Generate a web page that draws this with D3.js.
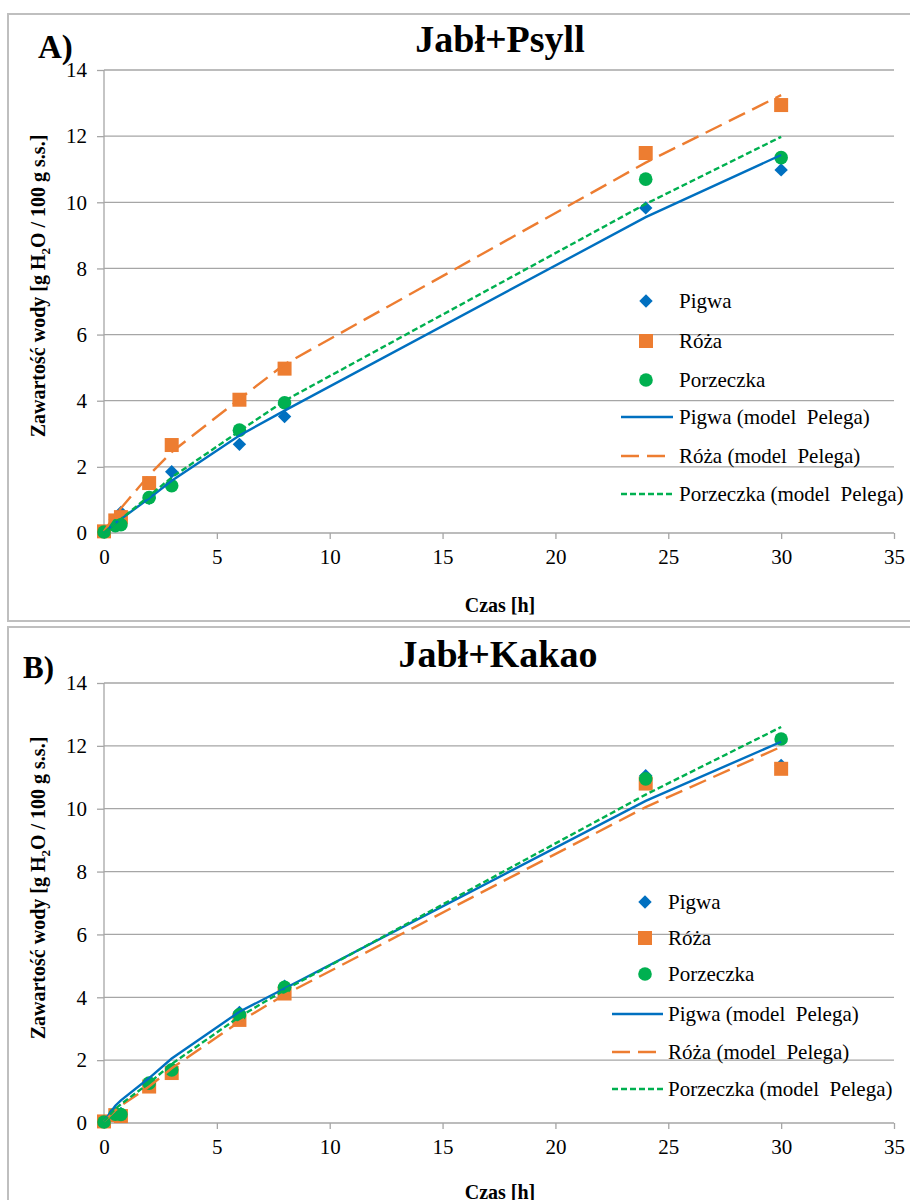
<!DOCTYPE html>
<html>
<head>
<meta charset="utf-8">
<script src="https://cdn.jsdelivr.net/npm/d3@7"></script>
<style>
  body { margin: 0; background: #fff; }
  svg text { font-family: "Liberation Serif", "Times New Roman", serif; }
</style>
</head>
<body>
<div id="chart"></div>
<script>
// measurement times [h]
var times = [0, 0.5, 0.75, 2, 3, 6, 8, 24, 30];

// A) Jabl+Psyll - measured
var pigwaA     = [0.05, 0.40, 0.62, 1.05, 1.85, 2.68, 3.52, 9.83, 10.98];
var rozaA      = [0.05, 0.38, 0.48, 1.51, 2.66, 4.03, 4.97, 11.49, 12.94];
var porzeczkaA = [0.03, 0.22, 0.25, 1.07, 1.43, 3.11, 3.94, 10.70, 11.35];
// A) model Pelega
var pigwaModelA     = [0.02, 0.30, 0.42, 1.05, 1.58, 2.95, 3.70, 9.55, 11.43];
var rozaModelA      = [0.05, 0.55, 0.75, 1.75, 2.45, 4.05, 5.10, 11.20, 13.24];
var porzeczkaModelA = [0.02, 0.30, 0.42, 1.12, 1.68, 3.08, 4.00, 9.95, 11.98];

// B) Jabl+Kakao - measured
var pigwaB     = [0.05, 0.30, 0.30, 1.25, 1.70, 3.52, 4.35, 11.05, 11.38];
var rozaB      = [0.05, 0.25, 0.22, 1.16, 1.59, 3.28, 4.12, 10.80, 11.27];
var porzeczkaB = [0.03, 0.28, 0.27, 1.27, 1.69, 3.44, 4.32, 10.95, 12.22];
// B) model Pelega
var pigwaModelB     = [0.05, 0.55, 0.72, 1.43, 2.05, 3.54, 4.28, 10.25, 12.13];
var rozaModelB      = [0.05, 0.40, 0.55, 1.16, 1.74, 3.22, 4.08, 10.05, 11.97];
var porzeczkaModelB = [0.05, 0.45, 0.60, 1.27, 1.88, 3.38, 4.23, 10.45, 12.60];

var seriesNames = ["Pigwa", "Róża", "Porzeczka"];
var modelNames = ["Pigwa (model  Pelega)", "Róża (model  Pelega)", "Porzeczka (model  Pelega)"];
var xTicks = [0, 5, 10, 15, 20, 25, 30, 35];
var yTicks = [0, 2, 4, 6, 8, 10, 12, 14];

var colors = ["#0070C0", "#ED7D31", "#00B050"];
var dashes = [null, "18,8", "6,3"];
var shapes = ["diamond", "square", "circle"];

var svg = d3.select("#chart").append("svg")
    .attr("width", 910)
    .attr("height", 1200);

function marker(g, shape, color) {
  if (shape == "circle") {
    g.append("circle").attr("r", 6.8).attr("fill", color);
  } else if (shape == "square") {
    g.append("rect").attr("x", -7).attr("y", -7).attr("width", 14).attr("height", 14)
      .attr("fill", color);
  } else {
    g.append("path").attr("d", d3.symbol().type(d3.symbolSquare).size(90)())
      .attr("transform", "rotate(45)").attr("fill", color);
  }
}

function drawPanel(p) {
  // frame
  svg.append("rect")
    .attr("x", p.frame[0]).attr("y", p.frame[1])
    .attr("width", p.frame[2]).attr("height", p.frame[3])
    .attr("fill", "none").attr("stroke", "#bfbfbf").attr("stroke-width", 2);

  var x = d3.scaleLinear().domain([0, 35]).range([104, 894]);
  var y = d3.scaleLinear().domain([0, 14]).range([p.bottom, p.top]);

  // gridlines
  svg.append("g").selectAll("line")
    .data(yTicks.slice(1))
    .enter().append("line")
    .attr("x1", x(0)).attr("x2", x(35))
    .attr("y1", function(d) { return y(d); })
    .attr("y2", function(d) { return y(d); })
    .attr("stroke", "#a6a6a6").attr("stroke-width", 1.3);

  // axes
  var xAxis = d3.axisBottom(x).tickValues(xTicks).tickSize(6).tickPadding(10);
  var yAxis = d3.axisLeft(y).tickValues(yTicks).tickSize(7).tickPadding(10);

  var gx = svg.append("g")
    .attr("transform", "translate(0," + y(0) + ")")
    .call(xAxis);
  var gy = svg.append("g")
    .attr("transform", "translate(" + x(0) + ",0)")
    .call(yAxis);
  [gx, gy].forEach(function(g) {
    g.attr("font-family", null);
    g.selectAll("path, line").attr("stroke", "#a6a6a6").attr("stroke-width", 1.3);
    g.selectAll("text").attr("font-size", 21).attr("fill", "#000");
  });
  gx.select(".domain").attr("d", "M" + x(0) + ",0H" + x(35));
  gy.select(".domain").attr("d", "M0," + y(0) + "V" + y(14));

  // titles
  svg.append("text").attr("x", p.titleX).attr("y", p.titleY)
    .attr("text-anchor", "middle").attr("font-weight", "bold").attr("font-size", 38)
    .text(p.title);
  svg.append("text").attr("x", p.letterX).attr("y", p.letterY)
    .attr("font-weight", "bold").attr("font-size", p.letterSize)
    .text(p.letter);

  svg.append("text").attr("x", 500).attr("y", p.xLabelY)
    .attr("text-anchor", "middle").attr("font-weight", "bold").attr("font-size", 20)
    .text("Czas [h]");

  var yl = svg.append("text")
    .attr("transform", "translate(45," + p.yLabelY + ") rotate(-90)")
    .attr("text-anchor", "middle").attr("font-weight", "bold").attr("font-size", 20);
  yl.append("tspan").text(p.yPrefix + " [g H");
  yl.append("tspan").attr("font-size", 13).attr("dy", 5).text("2");
  yl.append("tspan").attr("dy", -5).text("O / 100 g s.s.]");

  // measured points
  p.points.forEach(function(vals, k) {
    svg.append("g").selectAll("g")
      .data(vals)
      .enter().append("g")
      .attr("transform", function(d, i) { return "translate(" + x(times[i]) + "," + y(d) + ")"; })
      .each(function() { marker(d3.select(this), shapes[k], colors[k]); });
  });

  // model lines
  var line = d3.line()
    .x(function(d, i) { return x(times[i]); })
    .y(function(d) { return y(d); });
  p.models.forEach(function(vals, k) {
    svg.append("path")
      .attr("d", line(vals))
      .attr("fill", "none")
      .attr("stroke", colors[k])
      .attr("stroke-width", 2.4)
      .attr("stroke-dasharray", dashes[k]);
  });

  // legend
  var lg = svg.append("g");
  seriesNames.forEach(function(name, k) {
    var g = lg.append("g").attr("transform", "translate(" + p.legMarkX + "," + p.legY[k] + ")");
    marker(g, shapes[k], colors[k]);
    lg.append("text").attr("x", p.legTextX).attr("y", p.legY[k]).attr("dy", "0.35em")
      .attr("font-size", 21).text(name);
  });
  modelNames.forEach(function(name, k) {
    var yy = p.legY[k + 3];
    lg.append("line").attr("x1", p.legLine[0]).attr("x2", p.legLine[1])
      .attr("y1", yy).attr("y2", yy)
      .attr("stroke", colors[k]).attr("stroke-width", 2.4)
      .attr("stroke-dasharray", dashes[k]);
    lg.append("text").attr("x", p.legTextX).attr("y", yy).attr("dy", "0.35em")
      .attr("font-size", 21).style("white-space", "pre").text(name);
  });
}

drawPanel({
  frame: [8, 14, 905, 607],
  top: 70, bottom: 533,
  title: "Jabł+Psyll", titleX: 500, titleY: 52,
  letter: "A)", letterX: 38, letterY: 58, letterSize: 33,
  xLabelY: 612, yLabelY: 286, yPrefix: "Zawartość wody",
  points: [pigwaA, rozaA, porzeczkaA],
  models: [pigwaModelA, rozaModelA, porzeczkaModelA],
  legMarkX: 646, legTextX: 679, legLine: [621, 673],
  legY: [301, 341, 380, 417, 456, 494]
});

drawPanel({
  frame: [8, 627, 905, 600],
  top: 683, bottom: 1123,
  title: "Jabł+Kakao", titleX: 498, titleY: 667,
  letter: "B)", letterX: 23, letterY: 678, letterSize: 31,
  xLabelY: 1199, yLabelY: 888, yPrefix: "Zawartość  wody",
  points: [pigwaB, rozaB, porzeczkaB],
  models: [pigwaModelB, rozaModelB, porzeczkaModelB],
  legMarkX: 645, legTextX: 668, legLine: [612, 663],
  legY: [902, 938, 974, 1014, 1052, 1089]
});
</script>
</body>
</html>
